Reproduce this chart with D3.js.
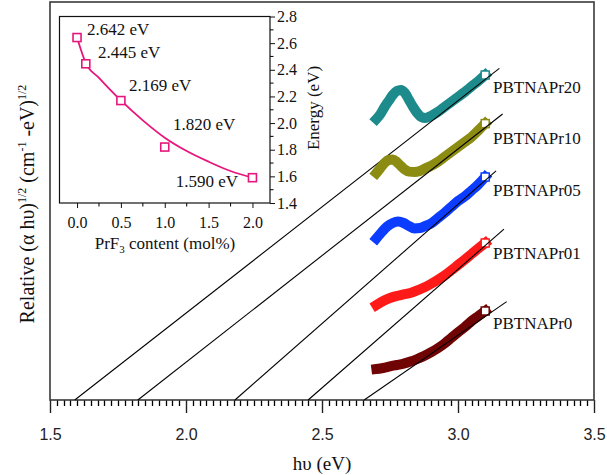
<!DOCTYPE html>
<html>
<head>
<meta charset="utf-8">
<script src="https://cdn.jsdelivr.net/npm/d3@7"></script>
<style>
  body { margin: 0; background: #fff; }
  text { fill: #111; }
</style>
</head>
<body>
<div id="chart"></div>
<script>
// ---- main plot data: (alpha h nu)^1/2 vs photon energy, relative units ----
const names = ["PBTNAPr20", "PBTNAPr10", "PBTNAPr05", "PBTNAPr01", "PBTNAPr0"];
const colors = ["#1d8b8b", "#8c8c12", "#0b3cff", "#ff1a1a", "#700303"];

const hv20 = [2.700, 2.715, 2.730, 2.745, 2.760, 2.775, 2.790, 2.805, 2.820, 2.835, 2.850,
              2.865, 2.880, 2.900, 2.925, 2.950, 2.975, 3.000, 3.025, 3.050, 3.075, 3.100];
const pr20 = [70.25, 71.5, 73.25, 74.75, 76.25, 77.25, 77.5, 76.75, 75, 73.25, 71.75,
              70.75, 70.5, 71, 72, 73.25, 74.5, 75.75, 77, 78.4, 79.75, 81.25];

const hv10 = [2.700, 2.715, 2.730, 2.745, 2.760, 2.775, 2.790, 2.805, 2.820, 2.840, 2.860,
              2.880, 2.900, 2.925, 2.950, 2.975, 3.000, 3.025, 3.050, 3.075, 3.100];
const pr10 = [56.75, 58, 59.25, 60, 60.1, 59.5, 58.5, 57.6, 57.1, 57, 57.25,
              57.9, 58.5, 59.5, 60.75, 62, 63.25, 64.5, 65.75, 67.4, 69.1];

const hv05 = [2.700, 2.720, 2.740, 2.760, 2.780, 2.800, 2.820, 2.840, 2.860, 2.880,
              2.900, 2.925, 2.950, 2.975, 3.000, 3.025, 3.050, 3.075, 3.100];
const pr05 = [40.4, 42, 43.4, 44.25, 44.6, 44.25, 43.5, 42.9, 43, 43.5,
              44.1, 45.4, 46.75, 48.25, 49.75, 50.9, 52.4, 53.9, 55.75];

const hv01 = [2.700, 2.725, 2.750, 2.775, 2.800, 2.825, 2.850, 2.875, 2.900,
              2.925, 2.950, 2.975, 3.000, 3.025, 3.050, 3.075, 3.100];
const pr01 = [23.75, 24.75, 25.5, 26, 26.4, 26.75, 27.4, 28.1, 29,
              30, 31.1, 32.4, 33.75, 35.1, 36.5, 37.9, 39.25];
const pr0  = [7.75, 8, 8.4, 8.75, 9.1, 9.6, 10.25, 11, 11.9,
              12.9, 14.1, 15.5, 16.9, 18.25, 19.75, 21, 22.25];

// tangent (Tauc) lines: x-intercept and upper end point
const tangentFrom = [1.591, 1.823, 2.180, 2.449, 2.655];
const tangentToX = [3.152, 3.164, 3.140, 3.169, 3.179];
const tangentToY = [82.9, 71.5, 57.3, 42.7, 24.6];

const xTicks = [1.5, 2.0, 2.5, 3.0, 3.5];

// ---- inset data: band gap vs PrF3 content ----
const prf3 = [0, 0.1, 0.5, 1.0, 2.0];
const gap = [2.642, 2.445, 2.169, 1.820, 1.590];
const gapText = ["2.642 eV", "2.445 eV", "2.169 eV", "1.820 eV", "1.590 eV"];
const fitX = [0, 0.1, 0.25, 0.5, 0.75, 1.0, 1.25, 1.5, 1.75, 2.0];
const fitY = [2.642, 2.45, 2.34, 2.17, 2.02, 1.89, 1.79, 1.71, 1.64, 1.59];
const insetXTicks = [0, 0.5, 1.0, 1.5, 2.0];
const insetYTicks = [1.4, 1.6, 1.8, 2.0, 2.2, 2.4, 2.6, 2.8];

const series = [
  { hv: hv20, v: pr20 }, { hv: hv10, v: pr10 }, { hv: hv05, v: pr05 },
  { hv: hv01, v: pr01 }, { hv: hv01, v: pr0 }
].map((s, i) => ({
  name: names[i], color: colors[i],
  pts: s.hv.map((e, j) => [e, s.v[j]]),
  line: [[tangentFrom[i], 0], [tangentToX[i], tangentToY[i]]]
}));

const serif = "'Liberation Serif', 'Times New Roman', serif";
const sans = "'Liberation Sans', Arial, sans-serif";

const svg = d3.select("#chart").append("svg")
    .attr("width", 607).attr("height", 475);

const x = d3.scaleLinear().domain([1.5, 3.5]).range([50, 594]);
const y = d3.scaleLinear().domain([0, 99.5]).range([400, 2]);

// minor ticks every 0.025, drawn straight from the scale
const minor = d3.range(0, 81).map(i => 1.5 + i * 0.025).filter((d, i) => i % 20 !== 0);
svg.append("g").attr("class", "minor").selectAll("line").data(minor).enter().append("line")
    .attr("x1", d => Math.round(x(d)) + 0.5).attr("x2", d => Math.round(x(d)) + 0.5)
    .attr("y1", 400).attr("y2", 406)
    .attr("stroke", "#000").attr("stroke-width", 1.3);

const xAxis = svg.append("g")
    .attr("transform", "translate(0,400)")
    .call(d3.axisBottom(x).tickValues(xTicks).tickSize(13).tickFormat(d3.format(".1f")))
    .call(g => g.select(".domain").remove());
xAxis.selectAll("line").attr("stroke", "#222").attr("stroke-width", 1.4);
xAxis.selectAll("text")
    .attr("y", 34).attr("dy", "0.35em")
    .style("font-family", sans).style("font-size", "16px").style("fill", "#222");

svg.append("rect")
    .attr("x", 50).attr("y", 2).attr("width", 544).attr("height", 398)
    .attr("fill", "none").attr("stroke", "#3a3a3a").attr("stroke-width", 1.6);

// axis titles
svg.append("text")
    .attr("x", 322).attr("y", 463).attr("dy", "0.35em")
    .attr("text-anchor", "middle")
    .style("font-family", serif).style("font-size", "19px")
    .text("h\u03c5 (eV)");

const yt = svg.append("text")
    .attr("transform", "translate(27,204) rotate(-90)")
    .attr("text-anchor", "middle").attr("dy", "0.35em")
    .style("font-family", serif).style("font-size", "20px");
yt.append("tspan").text("Relative (\u03b1 h\u03c5)");
yt.append("tspan").attr("dy", -8).style("font-size", "12px").text("1/2");
yt.append("tspan").attr("dy", 8).text(" (cm");
yt.append("tspan").attr("dy", -8).style("font-size", "12px").text("-1");
yt.append("tspan").attr("dy", 8).text(" -eV)");
yt.append("tspan").attr("dy", -8).style("font-size", "12px").text("1/2");

// data bands (dense open-square markers in the original)
const band = d3.line().x(d => x(d[0])).y(d => y(d[1])).curve(d3.curveMonotoneX);
const groups = svg.selectAll(".series").data(series).enter().append("g").attr("class", "series");

groups.append("path")
    .attr("d", d => band(d.pts))
    .attr("fill", "none")
    .attr("stroke", d => d.color)
    .attr("stroke-width", 10)
    .attr("stroke-linejoin", "round")
    .attr("stroke-linecap", "square");

// last marker shows as an open square
groups.append("rect")
    .attr("x", d => x(d.pts[d.pts.length - 1][0]) - 4)
    .attr("y", d => y(d.pts[d.pts.length - 1][1]) - 4)
    .attr("width", 8).attr("height", 8)
    .attr("fill", "#fff").attr("stroke", d => d.color).attr("stroke-width", 1.5);

// tangent lines
groups.append("line")
    .attr("x1", d => x(d.line[0][0])).attr("y1", d => y(d.line[0][1]))
    .attr("x2", d => x(d.line[1][0])).attr("y2", d => y(d.line[1][1]))
    .attr("stroke", "#000").attr("stroke-width", 1.1);

// series labels
const labelY = [87, 138, 190.5, 253, 323];
groups.append("text")
    .attr("x", 493).attr("y", (d, i) => labelY[i]).attr("dy", "0.35em")
    .style("font-family", serif).style("font-size", "17px")
    .text(d => d.name);

// ---- inset ----
const xi = d3.scaleLinear().domain([-0.2, 2.2]).range([59.5, 270]);
const yi = d3.scaleLinear().domain([1.4, 2.8]).range([203, 16.5]);
const inset = svg.append("g");

inset.append("rect")
    .attr("x", 59.5).attr("y", 16.5).attr("width", 210.5).attr("height", 186.5)
    .attr("fill", "#fff").attr("stroke", "#111").attr("stroke-width", 1.2);

const ixMinor = [0.25, 0.75, 1.25, 1.75];
inset.append("g").selectAll("line").data(ixMinor).enter().append("line")
    .attr("x1", d => xi(d)).attr("x2", d => xi(d))
    .attr("y1", 203).attr("y2", 206.5)
    .attr("stroke", "#111").attr("stroke-width", 1.1);
const ixAxis = inset.append("g").attr("transform", "translate(0,203)")
    .call(d3.axisBottom(xi).tickValues(insetXTicks).tickSize(5).tickFormat(d3.format(".1f")))
    .call(g => g.select(".domain").remove());
ixAxis.selectAll("text").attr("y", 19).attr("dy", "0.35em")
    .style("font-family", serif).style("font-size", "16px").style("fill", "#111");

const iyMinor = [1.5, 1.7, 1.9, 2.1, 2.3, 2.5, 2.7];
inset.append("g").selectAll("line").data(iyMinor).enter().append("line")
    .attr("x1", 270).attr("x2", 273.5)
    .attr("y1", d => yi(d)).attr("y2", d => yi(d))
    .attr("stroke", "#111").attr("stroke-width", 1.1);
const iyAxis = inset.append("g").attr("transform", "translate(270,0)")
    .call(d3.axisRight(yi).tickValues(insetYTicks).tickSize(5).tickFormat(d3.format(".1f")))
    .call(g => g.select(".domain").remove());
iyAxis.selectAll("text").attr("x", 7)
    .style("font-family", serif).style("font-size", "16px").style("fill", "#111");
inset.selectAll(".tick line").attr("stroke", "#111");

inset.append("text")
    .attr("transform", "translate(313,108) rotate(-90)")
    .attr("text-anchor", "middle").attr("dy", "0.35em")
    .style("font-family", serif).style("font-size", "17px")
    .text("Energy (eV)");

const ixt = inset.append("text")
    .attr("x", 165).attr("y", 243).attr("dy", "0.35em")
    .attr("text-anchor", "middle")
    .style("font-family", serif).style("font-size", "17px");
ixt.append("tspan").text("PrF");
ixt.append("tspan").attr("dy", 4).style("font-size", "11px").text("3");
ixt.append("tspan").attr("dy", -4).text(" content (mol%)");

inset.append("path")
    .datum(fitX.map((d, i) => [d, fitY[i]]))
    .attr("d", d3.line().x(d => xi(d[0])).y(d => yi(d[1])).curve(d3.curveMonotoneX))
    .attr("fill", "none").attr("stroke", "#e6177c").attr("stroke-width", 1.8);

inset.selectAll(".pt").data(prf3).enter().append("rect")
    .attr("x", (d) => xi(d) - 4).attr("y", (d, i) => yi(gap[i]) - 4)
    .attr("width", 8).attr("height", 8)
    .attr("fill", "#fff").attr("stroke", "#e6177c").attr("stroke-width", 1.6);

// value labels beside the points
const gapLabelPos = [[87, 35, "start"], [98, 58, "start"], [129, 91, "start"],
                     [173, 130, "start"], [238, 187, "end"]];
inset.selectAll(".lab").data(gapText).enter().append("text")
    .attr("x", (d, i) => gapLabelPos[i][0]).attr("y", (d, i) => gapLabelPos[i][1])
    .attr("text-anchor", (d, i) => gapLabelPos[i][2])
    .style("font-family", serif).style("font-size", "17px")
    .text(d => d);
</script>
</body>
</html>
